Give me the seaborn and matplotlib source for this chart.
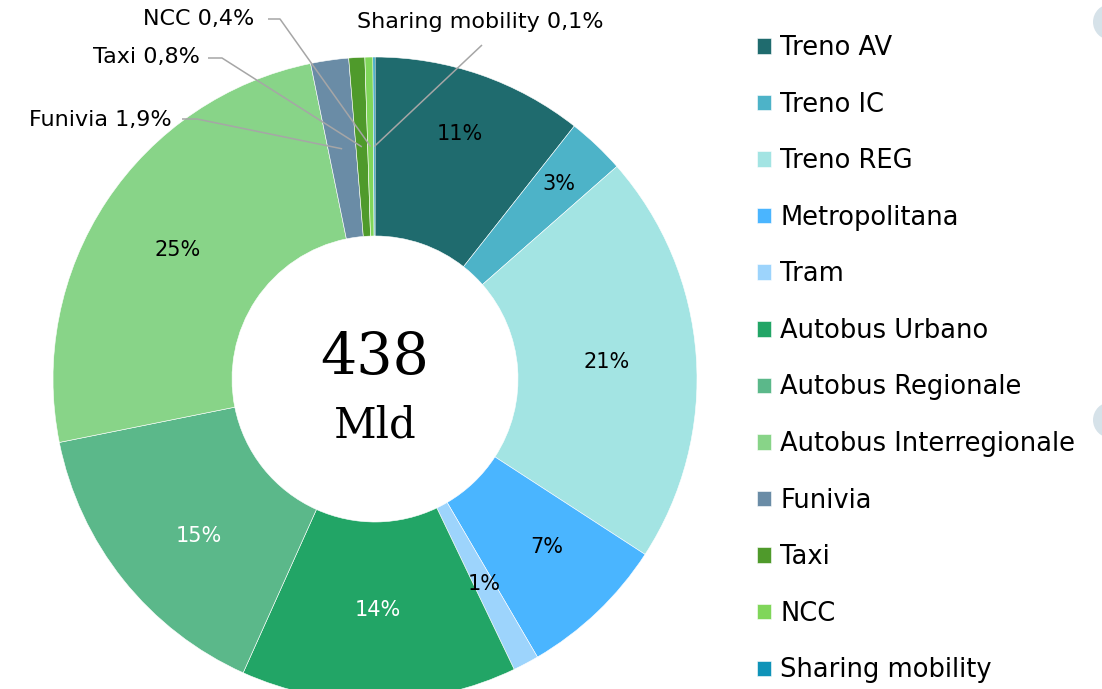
import numpy as np
import matplotlib
matplotlib.use("Agg")
import matplotlib.pyplot as plt
from matplotlib.patches import Circle
import seaborn as sns

# ---------------- data ----------------
categories = ["Treno AV", "Treno IC", "Treno REG", "Metropolitana", "Tram",
              "Autobus Urbano", "Autobus Regionale", "Autobus Interregionale",
              "Funivia", "Taxi", "NCC", "Sharing mobility"]
values = [10.6, 2.9, 20.6, 7.4, 1.3, 13.8, 15.1, 24.9, 1.9, 0.8, 0.4, 0.1]
colors_hex = ["#1F6B6E", "#4DB3C8", "#A3E4E3", "#4AB5FF", "#9DD4FC", "#22A566",
              "#5BB88A", "#88D488", "#6A8CA6", "#4F9A2B", "#80D65A", "#0F93B8"]
label_colors = ["black", "black", "black", "black", "black", "white",
                "white", "black"]
center_value = "438"
center_unit = "Mld"

# ---------------- style ----------------
sns.set_theme(style="white")
plt.rcParams["font.family"] = ["DejaVu Sans"]
palette = sns.color_palette(colors_hex)

W, H = 1102, 689
fig = plt.figure(figsize=(W / 100, H / 100), dpi=100)
ax = fig.add_axes([0, 0, 1, 1])

CX, CY = 375, H - 379
R, RING = 322, 179

wedges, _ = ax.pie(values, colors=palette, startangle=90, counterclock=False,
                   radius=R, center=(CX, CY),
                   wedgeprops=dict(width=RING, edgecolor="white", linewidth=0.4))

ax.set_xlim(0, W)
ax.set_ylim(0, H)
ax.set_aspect("equal")
ax.axis("off")


def point_on(w, r, dtheta=0.0):
    th = np.deg2rad((w.theta1 + w.theta2) / 2 + dtheta)
    return CX + r * np.cos(th), CY + r * np.sin(th)


# inner percentage labels
inner_r = [259, 268, 232, 240, 232, 231, 236, 236]
inner_dt = [0, 0, 0, 2, 0, 0, 3, 0.5]
for i in range(8):
    x, y = point_on(wedges[i], inner_r[i], inner_dt[i])
    ax.text(x, y, f"{values[i]:.0f}%", ha="center", va="center",
            fontsize=15, color=label_colors[i])

# outer labels with leader lines (text x, text y, elbow start, elbow end)
mid_r = R - RING / 2
outer_layout = {
    8: dict(tx=172, ty=120, ha="right", pts=[(182, 119), (197, 119)]),
    9: dict(tx=200, ty=57, ha="right", pts=[(208, 58), (222, 58)]),
    10: dict(tx=254, ty=19, ha="right", pts=[(268, 19), (280, 19)]),
    11: dict(tx=480, ty=22, ha="center", pts=[(482, 45)]),
}
for i, lay in outer_layout.items():
    txt = f"{categories[i]} {values[i]:.1f}%".replace(".", ",")
    ax.text(lay["tx"], H - lay["ty"], txt, ha=lay["ha"], va="center",
            fontsize=16, color="black")
    ax_, ay_ = point_on(wedges[i], mid_r)
    xs = [p[0] for p in lay["pts"]] + [ax_]
    ys = [H - p[1] for p in lay["pts"]] + [ay_]
    ax.plot(xs, ys, color="#A6A6A6", lw=1.1, solid_capstyle="butt")

# center text
ax.text(CX, H - 358, center_value, ha="center", va="center",
        fontsize=41, family="DejaVu Serif", color="black")
ax.text(CX, H - 426, center_unit, ha="center", va="center",
        fontsize=30, family="DejaVu Serif", color="black")

# legend
ax.legend(wedges, categories, loc="upper left",
          bbox_to_anchor=(757 / W, 1 - 35 / H), frameon=False,
          fontsize=18.5, handlelength=0.55, handleheight=0.55,
          handletextpad=0.35, labelspacing=1.19, borderpad=0,
          borderaxespad=0, labelcolor="black")

# decorative circles at right edge
for cy in (22, 420):
    ax.add_patch(Circle((1111, H - cy), 18, color="#D6E2E9", lw=0))

fig.savefig("out.png", dpi=100)
